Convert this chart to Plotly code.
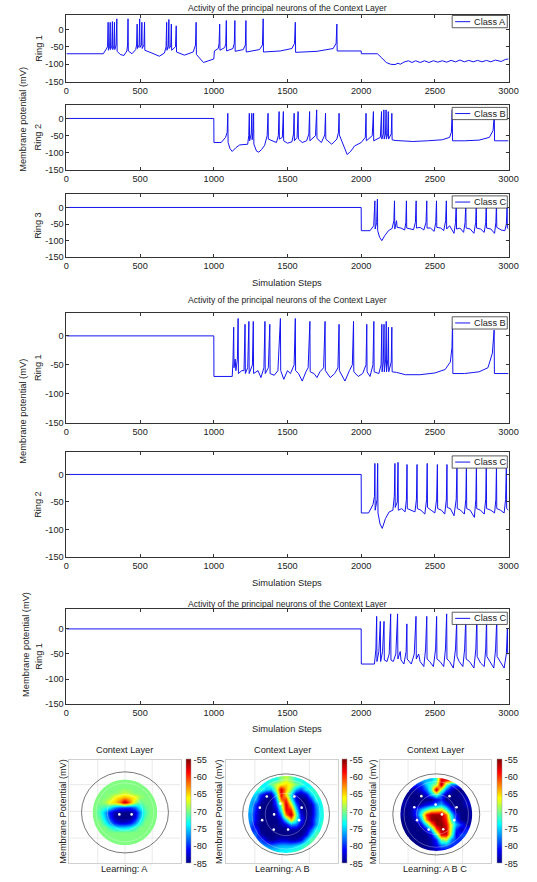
import math
import plotly.graph_objects as go

W, H = 537, 882
FONT = "Liberation Sans, Arial, Helvetica, sans-serif"
TXT = "#222222"
AX = "#333333"
BLUE = "#1414f0"

# ---------------- membrane potential traces: (simulation step, mV) ----------------
g1_ring1_classA = [
    (0, -70), (250, -70), (262, -62), (279, -50), (283, 20), (285, -60), (293, -50), (297, 20),
    (299, -58), (308, -48), (312, 22), (314, -58), (322, -48), (326, 20), (328, -58), (337, -45),
    (342, 30), (344, -63), (365, -72), (390, -75), (410, -62), (415, -45), (418, 30), (420, -62),
    (445, -70), (470, -58), (476, -45), (480, 15), (482, -55), (493, -45), (497, 30), (499, -52),
    (508, -45), (512, 20), (514, -55), (526, -45), (530, 20), (532, -60), (580, -68), (630, -77),
    (665, -68), (676, -50), (680, 20), (682, -60), (691, -48), (695, 28), (697, -55), (708, -48),
    (712, 15), (714, -60), (740, -50), (745, 10), (747, -65), (800, -74), (860, -65), (876, -45),
    (880, 20), (882, -72), (930, -95), (970, -90), (1000, -85), (1004, -62), (1030, -55), (1036, -40),
    (1040, 15), (1042, -60), (1075, -52), (1081, -40), (1085, 25), (1087, -62), (1130, -55), (1139, -40),
    (1143, 25), (1145, -63), (1200, -58), (1214, -45), (1218, 25), (1220, -65), (1310, -58), (1330, -45),
    (1335, 30), (1337, -65), (1450, -62), (1530, -55), (1548, -40), (1553, 20), (1555, -66), (1700, -63),
    (1810, -55), (1830, -40), (1835, 15), (1837, -62), (2000, -62), (2001, -70), (2110, -70), (2140, -82),
    (2170, -95), (2200, -100), (2230, -101), (2250, -97), (2265, -100), (2290, -94), (2320, -90), (2345, -95),
    (2370, -90), (2400, -95), (2430, -90), (2460, -95), (2490, -90), (2520, -94), (2550, -90), (2580, -94),
    (2610, -89), (2640, -93), (2670, -88), (2700, -93), (2730, -89), (2760, -93), (2790, -89), (2820, -93),
    (2850, -89), (2880, -93), (2910, -88), (2950, -92), (2980, -86), (3000, -85),
]

g1_ring2_classB = [
    (0, 0), (1000, 0), (1001, -70), (1050, -70), (1080, -55), (1091, -40), (1095, 15), (1097, -70),
    (1110, -88), (1125, -96), (1150, -85), (1175, -77), (1230, -75), (1237, -50), (1241, 15), (1243, -65),
    (1254, -45), (1258, 15), (1260, -62), (1266, -40), (1270, 15), (1272, -75), (1290, -95), (1305, -98),
    (1325, -90), (1345, -78), (1362, -50), (1368, 15), (1370, -60), (1400, -65), (1425, -70), (1438, -50),
    (1443, 20), (1445, -60), (1465, -55), (1472, 20), (1474, -65), (1500, -72), (1530, -68), (1541, -45),
    (1545, 15), (1547, -65), (1565, -55), (1572, 20), (1574, -60), (1600, -70), (1630, -65), (1645, -45),
    (1650, 20), (1652, -65), (1690, -50), (1698, 25), (1700, -58), (1730, -70), (1753, -48), (1758, 15),
    (1760, -60), (1800, -75), (1835, -60), (1846, -40), (1850, 15), (1852, -48), (1875, -75), (1905, -105),
    (1930, -95), (1955, -80), (2000, -70), (2028, -55), (2033, 15), (2035, -65), (2075, -50), (2083, 20),
    (2085, -65), (2130, -55), (2138, 20), (2140, -60), (2150, -45), (2154, 25), (2156, -60), (2165, -45),
    (2169, 25), (2171, -60), (2180, -45), (2184, 20), (2186, -60), (2204, -45), (2208, 15), (2210, -62),
    (2230, -64), (2350, -67), (2450, -65), (2550, -62), (2600, -55), (2612, -40), (2618, 25), (2620, -65),
    (2700, -65), (2800, -63), (2870, -55), (2895, -35), (2903, 10), (2905, -65), (3000, -65),
]

g1_ring3_classC = [
    (0, 0), (2000, 0), (2001, -70), (2060, -70), (2085, -55), (2093, 20), (2095, -65), (2105, -45),
    (2110, 25), (2112, -70), (2125, -90), (2140, -100), (2160, -85), (2185, -70), (2210, -63), (2222, -40),
    (2226, 20), (2228, -65), (2240, -40), (2244, -60), (2270, -62), (2295, -68), (2303, -45), (2307, 20),
    (2309, -62), (2330, -65), (2355, -67), (2368, -45), (2373, 20), (2375, -62), (2400, -60), (2425, -68),
    (2440, -45), (2445, 20), (2447, -62), (2470, -62), (2495, -72), (2506, -45), (2511, 20), (2513, -60),
    (2540, -62), (2560, -70), (2573, -40), (2578, 20), (2580, -65), (2600, -55), (2630, -78), (2640, -45),
    (2645, 15), (2647, -65), (2670, -62), (2695, -75), (2705, -45), (2710, 15), (2712, -62), (2740, -65),
    (2765, -78), (2777, -45), (2781, 15), (2783, -62), (2810, -65), (2835, -75), (2845, -45), (2849, 15),
    (2851, -62), (2880, -65), (2905, -78), (2914, -45), (2918, 15), (2920, -60), (2950, -68), (2975, -70),
    (2985, -50), (2990, 0), (2992, -62), (3000, -65),
]

g2_ring1_classB = [
    (0, 0), (1000, 0), (1001, -70), (1125, -70), (1130, -45), (1135, 15), (1137, -55), (1145, -40),
    (1150, -60), (1160, -40), (1165, 30), (1167, -65), (1190, -60), (1205, -60), (1212, 20), (1214, -65),
    (1230, -55), (1238, 25), (1240, -65), (1262, -50), (1268, 25), (1270, -65), (1300, -60), (1320, -72),
    (1340, -55), (1347, 25), (1349, -65), (1370, -55), (1380, 20), (1382, -65), (1410, -68), (1435, -60),
    (1452, 30), (1454, -60), (1475, -75), (1500, -60), (1520, -65), (1545, -50), (1553, 30), (1555, -60),
    (1575, -65), (1600, -78), (1625, -62), (1640, -55), (1652, 25), (1654, -62), (1680, -65), (1700, -72),
    (1720, -62), (1745, -55), (1755, 25), (1757, -60), (1790, -72), (1820, -65), (1842, -55), (1850, 20),
    (1852, -60), (1870, -70), (1890, -78), (1920, -60), (1940, -50), (1948, 25), (1950, -62), (1980, -70),
    (2010, -65), (2033, -50), (2038, 20), (2040, -62), (2060, -70), (2080, -50), (2086, 25), (2088, -62),
    (2120, -65), (2135, -50), (2140, 20), (2142, -62), (2150, -45), (2155, 20), (2157, -62), (2166, -40),
    (2170, 25), (2172, -62), (2181, -40), (2185, 15), (2187, -62), (2204, -45), (2208, 15), (2210, -62),
    (2240, -63), (2300, -67), (2400, -67), (2500, -64), (2570, -58), (2605, -45), (2616, -20), (2620, 25),
    (2622, -65), (2700, -65), (2800, -62), (2860, -55), (2890, -30), (2902, 10), (2904, -65), (3000, -65),
]

g2_ring2_classC = [
    (0, 0), (2000, 0), (2001, -70), (2050, -70), (2080, -55), (2090, -40), (2093, 20), (2095, -65),
    (2108, -45), (2112, 20), (2114, -70), (2128, -90), (2143, -98), (2165, -80), (2190, -68), (2215, -65),
    (2225, -40), (2229, 20), (2231, -60), (2245, -50), (2250, 22), (2252, -65), (2275, -62), (2298, -68),
    (2307, -45), (2311, 18), (2313, -62), (2340, -65), (2365, -68), (2375, -45), (2379, 18), (2381, -62),
    (2405, -65), (2432, -72), (2444, -45), (2448, 20), (2450, -60), (2475, -65), (2500, -70), (2512, -45),
    (2517, 18), (2519, -62), (2545, -65), (2567, -72), (2578, -45), (2582, 18), (2584, -60), (2605, -62),
    (2630, -75), (2645, -45), (2650, 15), (2652, -62), (2675, -65), (2700, -72), (2710, -45), (2714, 18),
    (2716, -62), (2740, -65), (2768, -78), (2778, -45), (2782, 20), (2784, -62), (2810, -65), (2835, -72),
    (2845, -45), (2849, 20), (2851, -62), (2880, -65), (2905, -70), (2914, -45), (2918, 18), (2920, -62),
    (2945, -65), (2970, -70), (2980, -45), (2985, 15), (2987, -62), (3000, -65),
]

g3_ring1_classC = [
    (0, 0), (2000, 0), (2001, -70), (2090, -70), (2100, -40), (2105, 25), (2107, -65), (2120, -45),
    (2130, 15), (2132, -65), (2145, -45), (2155, 15), (2157, -62), (2175, -65), (2190, -50), (2200, 30),
    (2202, -62), (2218, -65), (2235, -50), (2247, 30), (2249, -60), (2265, -45), (2270, -62), (2290, -70),
    (2305, -45), (2310, 10), (2312, -60), (2340, -70), (2360, -50), (2372, 25), (2374, -60), (2390, -50),
    (2400, -65), (2425, -75), (2437, -40), (2445, 25), (2447, -60), (2465, -65), (2490, -75), (2505, -40),
    (2512, 25), (2514, -60), (2535, -65), (2560, -75), (2572, -40), (2580, 30), (2582, -60), (2600, -65),
    (2625, -78), (2640, -40), (2648, 15), (2650, -55), (2665, -65), (2690, -75), (2702, -40), (2710, 25),
    (2712, -60), (2735, -65), (2765, -78), (2778, -40), (2785, 25), (2787, -55), (2810, -68), (2835, -75),
    (2845, -40), (2851, 20), (2853, -55), (2875, -65), (2900, -78), (2912, -40), (2920, 20), (2922, -55),
    (2945, -65), (2970, -78), (2985, -50), (2992, 0), (2994, -50), (3000, -50),
]

STEP_TICKS = [0, 500, 1000, 1500, 2000, 2500, 3000]
MV_TICKS = [-150, -100, -50, 0]
MV_TICK_TEXT = ["-150", "-100", "-50", "0"]
CBAR_TICKS = [-85, -80, -75, -70, -65, -60, -55]
CBAR_TICK_TEXT = ["-85", "-80", "-75", "-70", "-65", "-60", "-55"]

# ---------------- context layer maps (mV), rows top->bottom: (first column, values) ----------------
map_A_rows = [
    (0, []), (0, []),
    (6, [-70, -70, -70, -70, -70]),
    (4, [-70, -70, -70, -70, -70, -70, -70, -70, -70]),
    (3, [-70, -70, -70, -70, -69, -68, -69, -70, -70, -70, -70]),
    (3, [-70, -70, -69, -66, -65, -64, -65, -66, -69, -70, -70]),
    (2, [-70, -70, -69, -66, -65, -62, -56, -62, -68, -71, -70, -70, -70]),
    (2, [-70, -71, -72, -74, -77, -79, -80, -80, -78, -74, -71, -70, -70]),
    (2, [-70, -72, -76, -81, -84, -85, -85, -85, -83, -77, -72, -70, -70]),
    (2, [-70, -71, -75, -80, -84, -85, -85, -85, -82, -76, -71, -70, -70]),
    (2, [-70, -70, -73, -77, -81, -83, -83, -82, -78, -73, -70, -70, -70]),
    (3, [-70, -70, -72, -74, -75, -75, -74, -72, -70, -70, -70]),
    (3, [-70, -70, -70, -70, -70, -70, -70, -70, -70, -70, -70]),
    (4, [-70, -70, -70, -70, -70, -70, -70, -70, -70]),
    (6, [-70, -70, -70, -70, -70]),
    (0, []), (0, []),
]
map_B_rows = [
    (0, []),
    (6, [-73, -70, -68, -70, -73]),
    (4, [-74, -71, -68, -66, -65, -67, -70, -72, -74]),
    (3, [-72, -75, -76, -69, -57, -64, -69, -76, -79, -74, -72]),
    (2, [-75, -80, -84, -84, -74, -58, -66, -74, -83, -84, -82, -75, -72]),
    (2, [-76, -83, -85, -85, -78, -62, -60, -72, -82, -85, -85, -80, -73]),
    (1, [-76, -80, -85, -85, -85, -80, -70, -57, -66, -78, -85, -85, -84, -77, -73]),
    (1, [-76, -81, -85, -85, -85, -83, -73, -58, -60, -74, -84, -85, -84, -78, -73]),
    (1, [-77, -82, -85, -85, -85, -84, -78, -62, -56, -70, -82, -85, -84, -78, -73]),
    (1, [-77, -82, -85, -85, -85, -85, -82, -74, -64, -72, -80, -85, -83, -77, -73]),
    (1, [-78, -83, -85, -85, -85, -85, -84, -82, -77, -78, -83, -85, -83, -77, -72]),
    (2, [-80, -85, -85, -85, -85, -85, -85, -84, -84, -85, -84, -79, -73]),
    (2, [-78, -84, -85, -85, -85, -85, -85, -85, -85, -85, -82, -75, -71]),
    (3, [-79, -83, -85, -84, -83, -83, -84, -84, -82, -76, -71]),
    (4, [-77, -78, -77, -76, -76, -76, -75, -73, -71]),
    (6, [-75, -74, -74, -73, -72]),
    (0, []),
]
map_C_rows = [
    (0, []),
    (7, [-76, -72, -58]),
    (5, [-80, -75, -72, -69, -56, -70, -78]),
    (4, [-84, -82, -78, -71, -56, -69, -78, -83, -85]),
    (3, [-85, -85, -85, -82, -76, -71, -78, -84, -85, -85, -84]),
    (2, [-84, -85, -85, -85, -85, -85, -82, -80, -85, -85, -85, -85, -83]),
    (2, [-84, -85, -85, -84, -82, -80, -78, -76, -80, -85, -85, -85, -83]),
    (1, [-84, -85, -84, -80, -76, -72, -68, -67, -66, -72, -80, -85, -85, -85, -84]),
    (1, [-84, -85, -84, -80, -72, -60, -56, -56, -56, -62, -74, -82, -85, -85, -84]),
    (1, [-85, -85, -85, -83, -76, -63, -56, -55, -56, -60, -72, -80, -85, -85, -84]),
    (2, [-85, -85, -85, -82, -74, -64, -56, -55, -58, -68, -76, -80, -84]),
    (2, [-85, -85, -85, -85, -82, -75, -62, -56, -57, -68, -80, -84, -80]),
    (3, [-85, -85, -85, -85, -82, -72, -58, -58, -70, -82, -79]),
    (4, [-85, -85, -85, -84, -80, -70, -68, -77, -80]),
    (5, [-85, -85, -84, -82, -78, -78, -80]),
    (7, [-84, -83, -82]),
    (0, []),
]
# neuron positions shown as white dots on each map
dots_A = [(-0.17, -0.09), (0.20, -0.09)]
dots_B = [(-0.46, 0.44), (0.37, 0.44), (-0.67, 0.11), (0.59, 0.11), (-0.05, 0.23),
          (-0.24, -0.09), (-0.60, -0.26), (0.51, -0.26), (-0.25, -0.54), (0.18, -0.54)]
dots_C = [(-0.42, 0.45), (0.43, 0.45), (-0.63, 0.12), (0.01, 0.20), (0.64, 0.12),
          (0.20, -0.09), (-0.55, -0.26), (0.57, -0.26), (-0.20, -0.54), (0.24, -0.53)]

JET = [[0.0, "rgb(0,0,135)"], [0.125, "rgb(0,0,255)"], [0.375, "rgb(0,255,255)"],
       [0.625, "rgb(255,255,0)"], [0.875, "rgb(255,0,0)"], [1.0, "rgb(128,0,0)"]]


def fx(px):
    return px / W


def fy(py):
    return 1 - py / H


def full_rows(rows, n=17):
    """Expand (start, values) rows; cells outside the disk (hidden by the mask) repeat the edge value."""
    grid = []
    for start, vals in rows:
        grid.append([None] * start + list(vals) + [None] * (n - start - len(vals)) if vals else None)
    filled = []
    for j, r in enumerate(grid):
        if r is None:
            k = min((abs(j - q), q) for q, rr in enumerate(grid) if rr is not None)[1]
            r = grid[k]
        first = next(v for v in r if v is not None)
        last = [v for v in r if v is not None][-1]
        start = r.index(first)
        filled.append([first if i < start else (v if v is not None else last) for i, v in enumerate(r)])
    return filled[::-1]   # bottom row first for the y axis


def circle_path(cx, cy, r, n=96, rect=None):
    pts = [(cx + r * math.cos(2 * math.pi * t / n), cy + r * math.sin(2 * math.pi * t / n)) for t in range(n)]
    p = "M" + " L".join("%.4f,%.4f" % q for q in pts) + " Z"
    if rect:
        x0, x1, y0, y1 = rect
        p = "M%.4f,%.4f L%.4f,%.4f L%.4f,%.4f L%.4f,%.4f Z " % (x0, y0, x1, y0, x1, y1, x0, y1) + p
    return p


fig = go.Figure()
layout = dict(width=W, height=H, margin=dict(l=0, r=0, t=0, b=0), autosize=False,
              paper_bgcolor="white", plot_bgcolor="white", showlegend=False,
              font=dict(family=FONT, size=9, color=TXT))
shapes, annotations = [], []

PX0, PX1 = 65.0, 518.1
panels = [
    (g1_ring1_classA, "Class A", "Ring 1", (15.4, 82.2), 15.6),
    (g1_ring2_classB, "Class B", "Ring 2", (105.3, 171.0), 108.0),
    (g1_ring3_classC, "Class C", "Ring 3", (195.3, 258.7), 197.0),
    (g2_ring1_classB, "Class B", "Ring 1", (314.5, 425.2), 318.6),
    (g2_ring2_classC, "Class C", "Ring 2", (455.0, 560.2), 458.5),
    (g3_ring1_classC, "Class C", "Ring 1", (612.3, 708.2), 615.7),
]

for n, (pts, cls, ring, (y0, y1), leg_top) in enumerate(panels, start=1):
    xs = "" if n == 1 else str(n)
    fig.add_trace(go.Scatter(x=[p[0] for p in pts], y=[p[1] for p in pts], mode="lines",
                             name=cls, line=dict(color=BLUE, width=1),
                             xaxis="x" + xs, yaxis="y" + xs, hoverinfo="skip"))
    layout["xaxis" + xs] = dict(domain=[fx(PX0), fx(PX1)], range=[0, 3000], anchor="y" + xs,
                                tickvals=STEP_TICKS, ticks="inside", ticklen=3, tickcolor=AX,
                                showline=True, linecolor=AX, linewidth=0.8, mirror="ticks",
                                showgrid=False, zeroline=False, tickfont=dict(size=9.2, color=TXT))
    layout["yaxis" + xs] = dict(domain=[fy(y1), fy(y0)], range=[-150, 40], anchor="x" + xs,
                                tickvals=MV_TICKS, ticktext=MV_TICK_TEXT, ticks="inside", ticklen=3,
                                tickcolor=AX, showline=True, linecolor=AX, linewidth=0.8,
                                mirror="ticks", showgrid=False, zeroline=False,
                                tickfont=dict(size=9.2, color=TXT))
    annotations.append(dict(text=ring, x=fx(36), y=fy((y0 + y1) / 2), xref="paper", yref="paper",
                            textangle=-90, showarrow=False, font=dict(size=9.2, color=TXT),
                            xanchor="center", yanchor="middle"))
    # legend box
    shapes.append(dict(type="rect", xref="paper", yref="paper", x0=fx(460.3), x1=fx(516.8),
                       y0=fy(leg_top + 12.3), y1=fy(leg_top), line=dict(color=AX, width=0.8),
                       fillcolor="white", layer="above"))
    shapes.append(dict(type="line", xref="paper", yref="paper", x0=fx(463.4), x1=fx(478.8),
                       y0=fy(leg_top + 6.2), y1=fy(leg_top + 6.2), line=dict(color=BLUE, width=1),
                       layer="above"))
    annotations.append(dict(text=cls, x=fx(480.3), y=fy(leg_top + 6.2), xref="paper", yref="paper",
                            showarrow=False, xanchor="left", yanchor="middle",
                            font=dict(size=9.2, color=TXT)))

title = "Activity of the principal neurons of the Context Layer"
XC = (PX0 + PX1) / 2
for ty in (8.2, 302.2, 607.2):
    annotations.append(dict(text=title, x=fx(XC), y=fy(ty), xref="paper", yref="paper",
                            showarrow=False, font=dict(size=8.6, color=TXT),
                            xanchor="center", yanchor="middle"))
for ly in (284.4, 585.9, 732.8):
    annotations.append(dict(text="Simulation Steps", x=fx(XC), y=fy(ly), xref="paper", yref="paper",
                            showarrow=False, font=dict(size=9.3, color=TXT),
                            xanchor="center", yanchor="middle"))
for (lx, ly) in ((20.5, 120.5), (20.5, 414), (23.6, 648.6)):
    annotations.append(dict(text="Membrane potential (mV)", x=fx(lx), y=fy(ly), xref="paper",
                            yref="paper", textangle=-90, showarrow=False,
                            font=dict(size=9.3, color=TXT), xanchor="center", yanchor="middle"))

# ---------------- maps ----------------
cells = [round(-1.2 + 0.15 * k, 3) for k in range(17)]
XR, YR = 1.676, 1.53
maps = [
    (map_A_rows, dots_A, "Learning: A", 125, (0.0, -0.03), 0.97, 188, 62),
    (map_B_rows, dots_B, "Learning: A B", 286, (0.12, -0.09), 1.14, 347, 222),
    (map_C_rows, dots_C, "Learning: A B C", 443, (0.03, -0.09), 1.08, 506, 380),
]
GRIDC = "#e3e3e3"
for k, (rows, dots, label, cx, (ox, oy), R, cbx, ylx) in enumerate(maps, start=7):
    xs = str(k)
    layout["xaxis" + xs] = dict(domain=[fx(cx - 57), fx(cx + 57)], range=[-XR, XR], anchor="y" + xs,
                                showticklabels=False, ticks="", showline=True, linecolor="#d0d0d0",
                                linewidth=0.8, mirror=True, zeroline=False, showgrid=False)
    layout["yaxis" + xs] = dict(domain=[fy(868), fy(764)], range=[-YR, YR], anchor="x" + xs,
                                showticklabels=False, ticks="", showline=True, linecolor="#d0d0d0",
                                linewidth=0.8, mirror=True, zeroline=False, showgrid=False)
    fig.add_trace(go.Heatmap(
        z=full_rows(rows), x=[ox + c for c in cells], y=[oy + c for c in cells],
        zmin=-85, zmax=-55, colorscale=JET, zsmooth="best", hoverinfo="skip",
        xaxis="x" + xs, yaxis="y" + xs, showscale=True,
        colorbar=dict(x=fx(cbx), xanchor="left", y=fy(816), yanchor="middle", len=104,
                      lenmode="pixels", thickness=5, thicknessmode="pixels", xpad=0, ypad=0,
                      outlinewidth=0.5, outlinecolor="#999999", tickvals=CBAR_TICKS,
                      ticktext=CBAR_TICK_TEXT, ticks="", tickfont=dict(size=9.2, color=TXT))))
    fig.add_trace(go.Scatter(x=[d[0] for d in dots], y=[d[1] for d in dots], mode="markers",
                             marker=dict(color="white", size=2.6), hoverinfo="skip",
                             xaxis="x" + xs, yaxis="y" + xs))
    # white mask outside the disk
    shapes.append(dict(type="path", xref="x" + xs, yref="y" + xs, layer="above",
                       path=circle_path(ox, oy, R, rect=(-XR + 0.03, XR - 0.03, -YR + 0.03, YR - 0.03)),
                       fillrule="evenodd", fillcolor="white", line=dict(width=0)))
    # light grid lines outside the disk
    for a in (-0.82, 0.0, 0.82):
        d = a - ox
        if abs(d) < R:
            h = math.sqrt(R * R - d * d)
            segs = [(-YR, oy - h), (oy + h, YR)]
        else:
            segs = [(-YR, YR)]
        for s0, s1 in segs:
            shapes.append(dict(type="line", xref="x" + xs, yref="y" + xs, x0=a, x1=a, y0=s0, y1=s1,
                               line=dict(color=GRIDC, width=0.8), layer="above"))
    for b in (-0.79, 0.0, 0.79):
        d = b - oy
        if abs(d) < R:
            h = math.sqrt(R * R - d * d)
            segs = [(-XR, ox - h), (ox + h, XR)]
        else:
            segs = [(-XR, XR)]
        for s0, s1 in segs:
            shapes.append(dict(type="line", xref="x" + xs, yref="y" + xs, x0=s0, x1=s1, y0=b, y1=b,
                               line=dict(color=GRIDC, width=0.8), layer="above"))
    for r in (0.55 * R, 0.9 * R):
        shapes.append(dict(type="circle", xref="x" + xs, yref="y" + xs, x0=ox - r, x1=ox + r,
                           y0=oy - r, y1=oy + r, line=dict(color="rgba(255,255,255,0.5)", width=0.6),
                           layer="above"))
    shapes.append(dict(type="circle", xref="x" + xs, yref="y" + xs, x0=ox - 1.31, x1=ox + 1.31,
                       y0=oy - 1.2, y1=oy + 1.2, line=dict(color="#555555", width=0.8),
                       layer="above"))
    annotations.append(dict(text="Context Layer", x=fx(cx), y=fy(754), xref="paper", yref="paper",
                            showarrow=False, font=dict(size=9.2, color=TXT),
                            xanchor="center", yanchor="middle"))
    annotations.append(dict(text=label, x=fx(cx), y=fy(873.5), xref="paper", yref="paper",
                            showarrow=False, font=dict(size=9.2, color=TXT),
                            xanchor="center", yanchor="middle"))
    annotations.append(dict(text="Membrane Potential (mV)", x=fx(ylx), y=fy(816), xref="paper",
                            yref="paper", textangle=-90, showarrow=False,
                            font=dict(size=9.2, color=TXT), xanchor="center", yanchor="middle"))

layout["shapes"] = shapes
layout["annotations"] = annotations
fig.update_layout(**layout)
fig.write_html("out.html")
